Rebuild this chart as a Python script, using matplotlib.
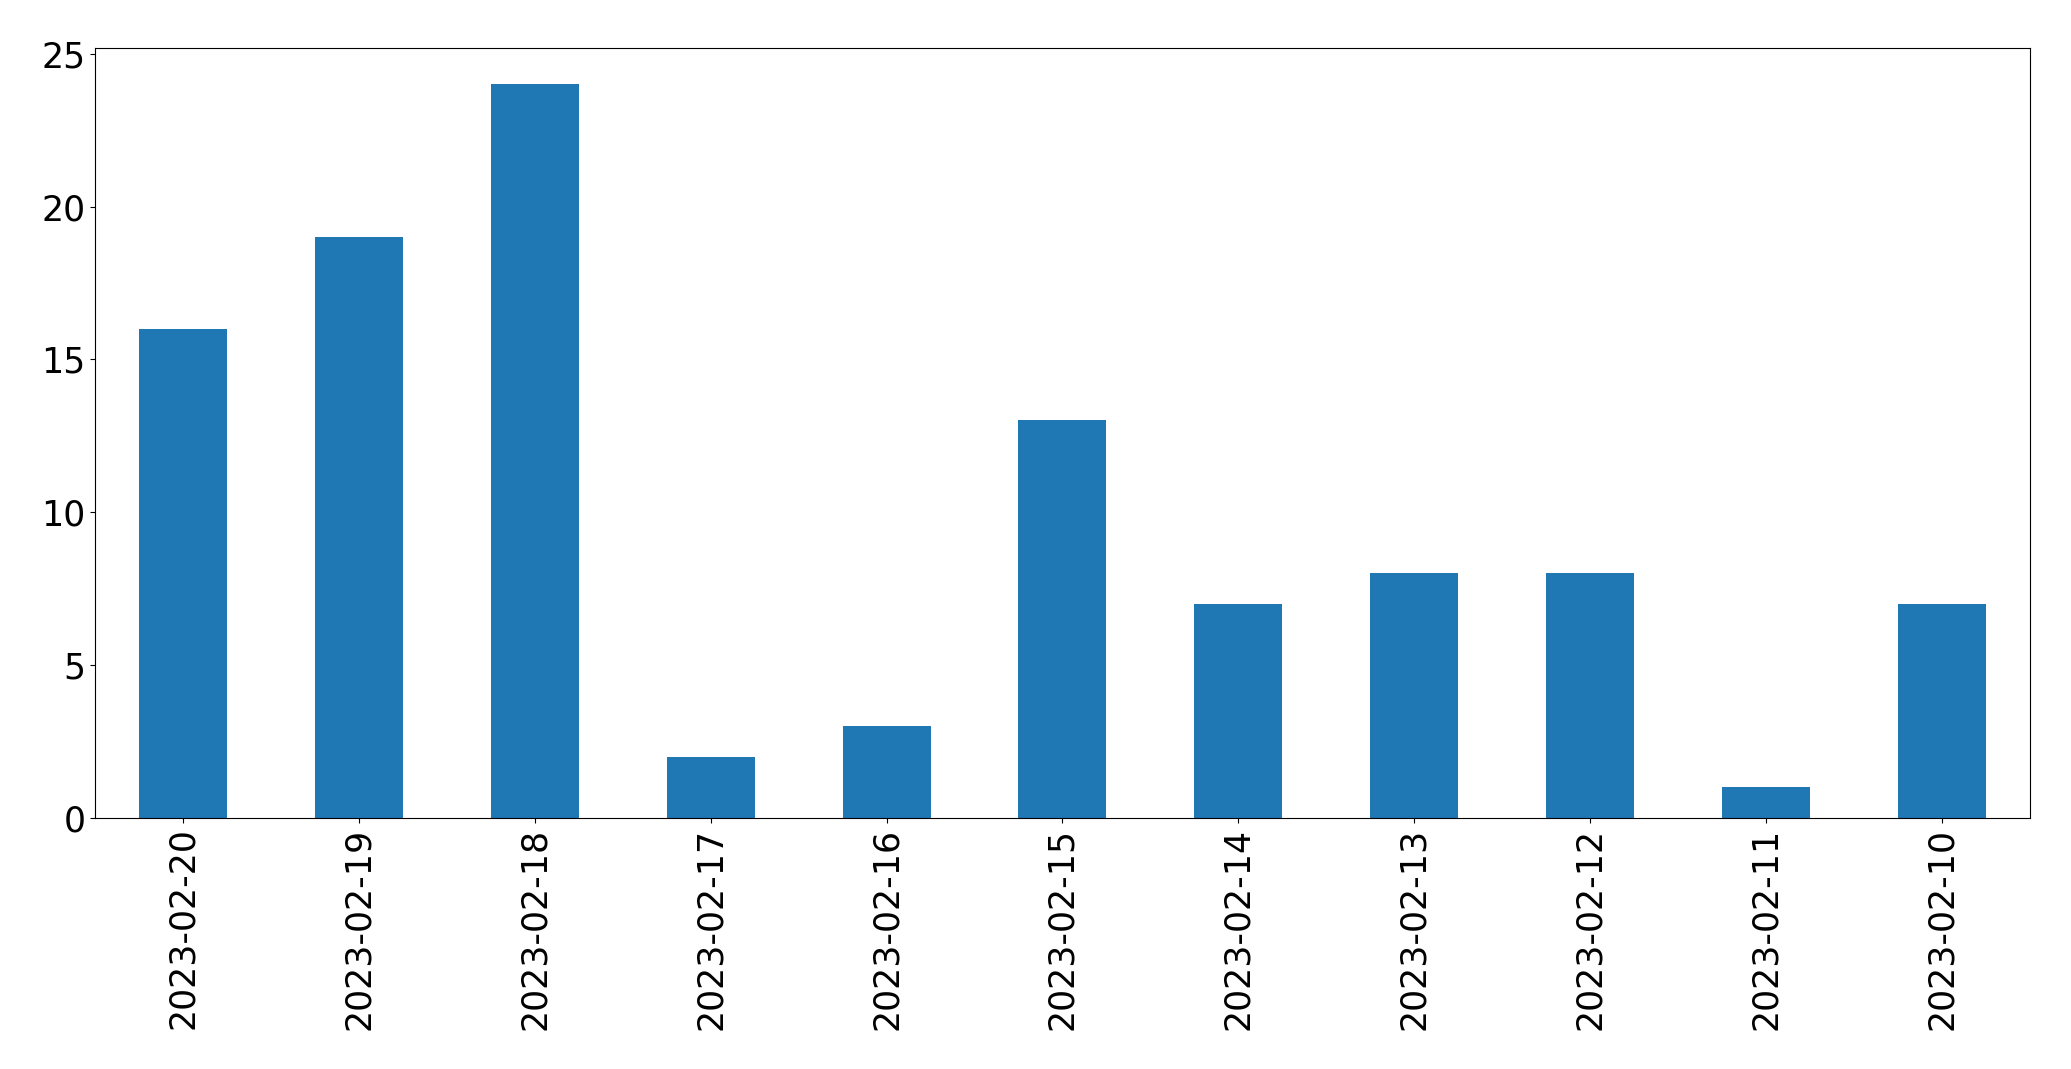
import matplotlib
matplotlib.use("Agg")
import matplotlib.pyplot as plt

dates = ["2023-02-20", "2023-02-19", "2023-02-18", "2023-02-17", "2023-02-16",
         "2023-02-15", "2023-02-14", "2023-02-13", "2023-02-12", "2023-02-11",
         "2023-02-10"]
counts = [16, 19, 24, 2, 3, 13, 7, 8, 8, 1, 7]

fig = plt.figure(figsize=(20.71, 10.69), dpi=100)
ax = fig.add_axes([0.046, 0.235, 0.934, 0.7205])

pos = list(range(len(dates)))
ax.bar(pos, counts, width=0.5, color="#1f77b4")
ax.set_xlim(-0.5, len(dates) - 0.5)
ax.set_xticks(pos)
ax.set_xticklabels(dates, rotation=90)
ax.tick_params(axis="both", labelsize=25)

fig.savefig("out.png", dpi=100)
